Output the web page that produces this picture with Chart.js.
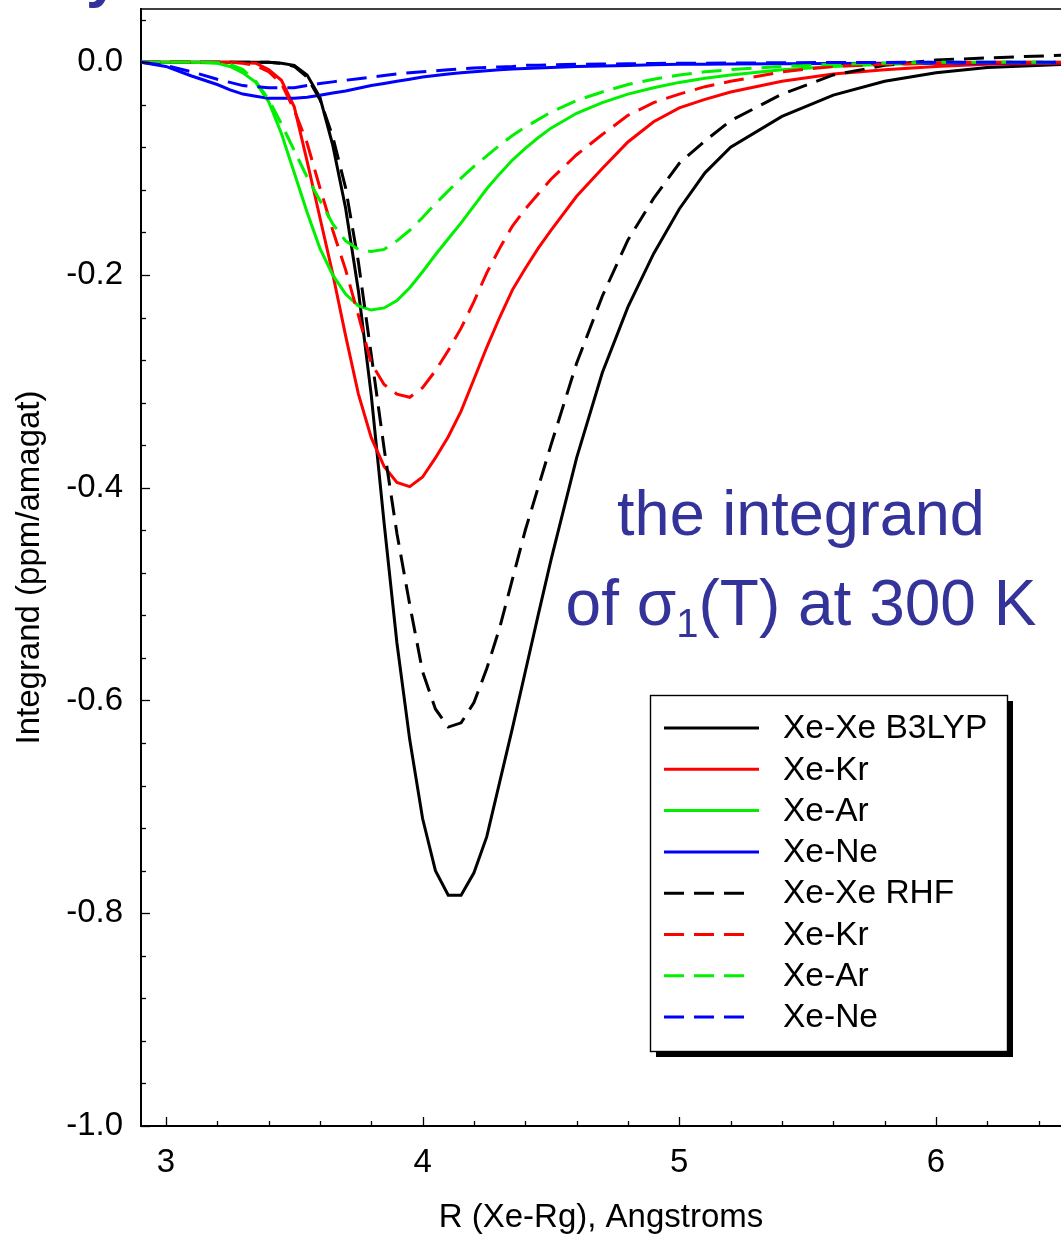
<!DOCTYPE html>
<html>
<head>
<meta charset="utf-8">
<script src="https://cdn.jsdelivr.net/npm/chart.js@4.4.1/dist/chart.umd.min.js"></script>
<style>
  html, body { margin: 0; padding: 0; background: #fff; overflow: hidden; }
</style>
</head>
<body>
<canvas id="integrand" width="1061" height="1238"></canvas>
<script>
// R grid (Angstroms) shared by every curve
const rValues = [2.9, 3.0, 3.1, 3.2, 3.25, 3.3, 3.35, 3.4, 3.45, 3.5, 3.55, 3.6, 3.65, 3.7, 3.75, 3.8, 3.85, 3.9, 3.95, 4.0,
  4.05, 4.1, 4.15, 4.2, 4.25, 4.3, 4.35, 4.4, 4.45, 4.5, 4.6, 4.7, 4.8, 4.9, 5.0, 5.1, 5.2, 5.4, 5.6, 5.8, 6.0, 6.2, 6.5];

// B3LYP curves (solid)
const xeXeB3lyp = [0, 0, 0, 0, 0, 0, 0, 0, -0.001, -0.003, -0.012, -0.033, -0.078, -0.137, -0.215, -0.313, -0.433, -0.546, -0.637, -0.711,
  -0.760, -0.783, -0.783, -0.762, -0.728, -0.677, -0.626, -0.573, -0.520, -0.468, -0.372, -0.292, -0.230, -0.180, -0.138, -0.104, -0.080, -0.051, -0.031, -0.018, -0.010, -0.005, -0.002];
const xeKrB3lyp = [0, 0, 0, 0, 0, -0.0005, -0.001, -0.007, -0.017, -0.042, -0.093, -0.146, -0.199, -0.257, -0.312, -0.353, -0.380, -0.395, -0.399, -0.390,
  -0.372, -0.352, -0.328, -0.298, -0.268, -0.240, -0.214, -0.194, -0.175, -0.158, -0.126, -0.100, -0.075, -0.056, -0.043, -0.035, -0.028, -0.018, -0.011, -0.007, -0.004, -0.002, -0.001];
const xeArB3lyp = [0, 0, 0, -0.001, -0.004, -0.010, -0.019, -0.037, -0.067, -0.104, -0.141, -0.175, -0.200, -0.218, -0.229, -0.233, -0.231, -0.224, -0.212, -0.197,
  -0.181, -0.166, -0.151, -0.135, -0.119, -0.105, -0.092, -0.081, -0.071, -0.062, -0.048, -0.038, -0.030, -0.024, -0.019, -0.015, -0.012, -0.007, -0.004, -0.002, -0.001, 0, 0];
const xeNeB3lyp = [0, -0.004, -0.013, -0.021, -0.026, -0.030, -0.032, -0.034, -0.034, -0.034, -0.033, -0.031, -0.029, -0.027, -0.0245, -0.022, -0.020, -0.018, -0.016, -0.014,
  -0.0125, -0.011, -0.010, -0.009, -0.008, -0.007, -0.0065, -0.006, -0.0055, -0.005, -0.004, -0.0035, -0.003, -0.0025, -0.002, -0.002, -0.0018, -0.0015, -0.0013, -0.0011, -0.001, -0.0008, -0.0005];

// RHF curves (dashed)
const xeXeRhf = [0, 0, 0, 0, 0, 0, 0, 0, -0.001, -0.004, -0.014, -0.035, -0.070, -0.118, -0.188, -0.275, -0.363, -0.443, -0.510, -0.573,
  -0.608, -0.625, -0.621, -0.602, -0.570, -0.532, -0.486, -0.440, -0.400, -0.360, -0.283, -0.220, -0.167, -0.128, -0.095, -0.074, -0.055, -0.030, -0.012, -0.003, 0.002, 0.004, 0.0066];
const xeKrRhf = [0, 0, 0, 0, 0, -0.001, -0.003, -0.009, -0.020, -0.045, -0.076, -0.118, -0.158, -0.195, -0.238, -0.283, -0.303, -0.312, -0.315, -0.306,
  -0.290, -0.271, -0.250, -0.225, -0.198, -0.175, -0.154, -0.138, -0.124, -0.110, -0.087, -0.068, -0.050, -0.038, -0.030, -0.023, -0.018, -0.009, -0.004, -0.002, -0.001, 0, 0];
const xeArRhf = [0, 0, 0, -0.0005, -0.002, -0.007, -0.018, -0.035, -0.058, -0.083, -0.108, -0.130, -0.152, -0.168, -0.176, -0.178, -0.176, -0.168, -0.158, -0.146,
  -0.133, -0.121, -0.109, -0.098, -0.088, -0.078, -0.069, -0.061, -0.054, -0.047, -0.036, -0.028, -0.021, -0.016, -0.012, -0.009, -0.007, -0.004, -0.002, -0.001, 0, 0, 0];
const xeNeRhf = [0, -0.003, -0.009, -0.016, -0.019, -0.022, -0.023, -0.024, -0.024, -0.024, -0.022, -0.020, -0.0185, -0.017, -0.0155, -0.014, -0.0125, -0.011, -0.010, -0.009,
  -0.008, -0.007, -0.0063, -0.0055, -0.005, -0.0045, -0.004, -0.003, -0.0028, -0.0025, -0.002, -0.0017, -0.0015, -0.0012, -0.001, -0.0009, -0.0008, -0.0005, -0.0003, -0.0002, 0, 0, 0];

const seriesLabels = ["Xe-Xe B3LYP", "Xe-Kr", "Xe-Ar", "Xe-Ne", "Xe-Xe RHF", "Xe-Kr", "Xe-Ar", "Xe-Ne"];
const seriesValues = [xeXeB3lyp, xeKrB3lyp, xeArB3lyp, xeNeB3lyp, xeXeRhf, xeKrRhf, xeArRhf, xeNeRhf];
const seriesColors = ["#000000", "#ff0000", "#00f000", "#0000ff", "#000000", "#ff0000", "#00f000", "#0000ff"];
const seriesDashed = [false, false, false, false, true, true, true, true];

// axis ticks
const xMajorTicks = [3, 4, 5, 6];
const xMinorTicks = [3.2, 3.4, 3.6, 3.8, 4.2, 4.4, 4.6, 4.8, 5.2, 5.4, 5.6, 5.8, 6.2, 6.4];
const yMajorTicks = [-1.0, -0.8, -0.6, -0.4, -0.2, 0.0];
const yMinorTicks = [-0.96, -0.92, -0.88, -0.84, -0.76, -0.72, -0.68, -0.64, -0.56, -0.52, -0.48, -0.44,
  -0.36, -0.32, -0.28, -0.24, -0.16, -0.12, -0.08, -0.04, 0.04];

const FONT = "'Liberation Sans', Arial, Helvetica, sans-serif";
const DASH = [20, 10];
const LINE_W = 3;

const datasets = seriesValues.map((vals, i) => ({
  label: seriesLabels[i],
  data: rValues.map((r, k) => ({ x: r, y: vals[k] })),
  borderColor: seriesColors[i],
  borderWidth: LINE_W,
  borderDash: seriesDashed[i] ? DASH : [],
  tension: 0,
  pointRadius: 0,
  pointHoverRadius: 0,
  fill: false,
  order: seriesValues.length - i,
}));

// inside tick marks + top frame line
const frameTicks = {
  id: "frameTicks",
  afterDraw(chart) {
    const { ctx, chartArea: a, scales } = chart;
    ctx.save();
    ctx.strokeStyle = "#000";
    ctx.lineWidth = 1.6;
    ctx.beginPath();
    ctx.moveTo(a.left, a.top);
    ctx.lineTo(a.right, a.top);
    ctx.stroke();

    ctx.lineWidth = 1.3;
    const xTick = (v, len) => {
      const px = Math.round(scales.x.getPixelForValue(v)) + 0.5;
      ctx.beginPath();
      ctx.moveTo(px, a.bottom);
      ctx.lineTo(px, a.bottom - len);
      ctx.stroke();
    };
    const yTick = (v, len) => {
      const py = Math.round(scales.y.getPixelForValue(v)) + 0.5;
      ctx.beginPath();
      ctx.moveTo(a.left, py);
      ctx.lineTo(a.left + len, py);
      ctx.stroke();
    };
    xMajorTicks.forEach((v) => xTick(v, 9));
    xMinorTicks.forEach((v) => xTick(v, 5));
    yMajorTicks.forEach((v) => yTick(v, 9));
    yMinorTicks.forEach((v) => yTick(v, 5));
    ctx.restore();
  },
};

// boxed legend with shadow, drawn from the datasets
const boxLegend = {
  id: "boxLegend",
  afterDraw(chart) {
    const ctx = chart.ctx;
    const bx = 650, by = 695, bw = 357, bh = 356;
    ctx.save();
    ctx.fillStyle = "#000";
    ctx.fillRect(bx + 6, by + 6, bw, bh);
    ctx.fillStyle = "#fff";
    ctx.fillRect(bx, by, bw, bh);
    ctx.strokeStyle = "#000";
    ctx.lineWidth = 1.4;
    ctx.strokeRect(bx + 0.5, by + 0.5, bw, bh);

    ctx.font = "33.5px " + FONT;
    ctx.textBaseline = "middle";
    chart.data.datasets.forEach((ds, i) => {
      const yc = 728 + i * 41.3;
      ctx.strokeStyle = ds.borderColor;
      ctx.lineWidth = LINE_W;
      ctx.setLineDash(ds.borderDash || []);
      ctx.beginPath();
      ctx.moveTo(664, yc);
      ctx.lineTo(ds.borderDash && ds.borderDash.length ? 750 : 759, yc);
      ctx.stroke();
      ctx.setLineDash([]);
      ctx.fillStyle = "#000";
      ctx.fillText(ds.label, 783, yc + 1);
    });
    ctx.restore();
  },
};

// blue annotation text
const annotation = {
  id: "annotation",
  afterDraw(chart) {
    const ctx = chart.ctx;
    const cx = 801;
    ctx.save();
    ctx.fillStyle = "#333399";
    ctx.textBaseline = "alphabetic";
    ctx.font = "63px " + FONT;
    ctx.textAlign = "center";
    ctx.fillText("the integrand", cx, 535);

    const big = "64px " + FONT, small = "40px " + FONT;
    const parts = [
      { t: "of \u03c3", f: big, dy: 0 },
      { t: "1", f: small, dy: 12 },
      { t: "(T) at 300 K", f: big, dy: 0 },
    ];
    let total = 0;
    parts.forEach((p) => { ctx.font = p.f; p.w = ctx.measureText(p.t).width; total += p.w; });
    let x = cx - total / 2;
    ctx.textAlign = "left";
    parts.forEach((p) => {
      ctx.font = p.f;
      ctx.fillText(p.t, x, 625 + p.dy);
      x += p.w;
    });

    // bit of a cut-off heading glyph at the top left
    ctx.font = "bold 60px " + FONT;
    ctx.fillText("y", 86, -4);
    ctx.restore();
  },
};

new Chart(document.getElementById("integrand"), {
  type: "line",
  data: { datasets: datasets },
  options: {
    responsive: false,
    animation: false,
    devicePixelRatio: 1,
    layout: { padding: { top: 9, right: 0, bottom: 0, left: 0 } },
    plugins: {
      legend: { display: false },
      tooltip: { enabled: false },
    },
    scales: {
      x: {
        type: "linear",
        min: 2.903,
        max: 6.487,
        afterFit: (s) => { s.height = 112; s.paddingLeft = 0; s.paddingRight = 0; },
        afterBuildTicks: (s) => { s.ticks = xMajorTicks.map((v) => ({ value: v })); },
        grid: { display: false, drawTicks: false },
        border: { display: true, color: "#000", width: 2 },
        ticks: {
          color: "#000",
          padding: 17,
          maxRotation: 0,
          font: { family: FONT, size: 33 },
          callback: (v) => String(v),
        },
        title: {
          display: true,
          text: "R (Xe-Rg), Angstroms",
          color: "#000",
          font: { family: FONT, size: 33 },
          padding: { top: 0, bottom: 0 },
        },
      },
      y: {
        min: -1.0,
        max: 0.05,
        afterFit: (s) => { s.width = 141; s.paddingTop = 0; s.paddingBottom = 0; },
        afterBuildTicks: (s) => { s.ticks = yMajorTicks.map((v) => ({ value: v })); },
        grid: { display: false, drawTicks: false },
        border: { display: true, color: "#000", width: 2 },
        ticks: {
          color: "#000",
          padding: 18,
          font: { family: FONT, size: 33 },
          callback: (v) => Number(v).toFixed(1),
        },
        title: {
          display: true,
          text: "Integrand (ppm/amagat)",
          color: "#000",
          font: { family: FONT, size: 33 },
          padding: { top: 10, bottom: 0 },
        },
      },
    },
  },
  plugins: [frameTicks, boxLegend, annotation],
});
</script>
</body>
</html>
